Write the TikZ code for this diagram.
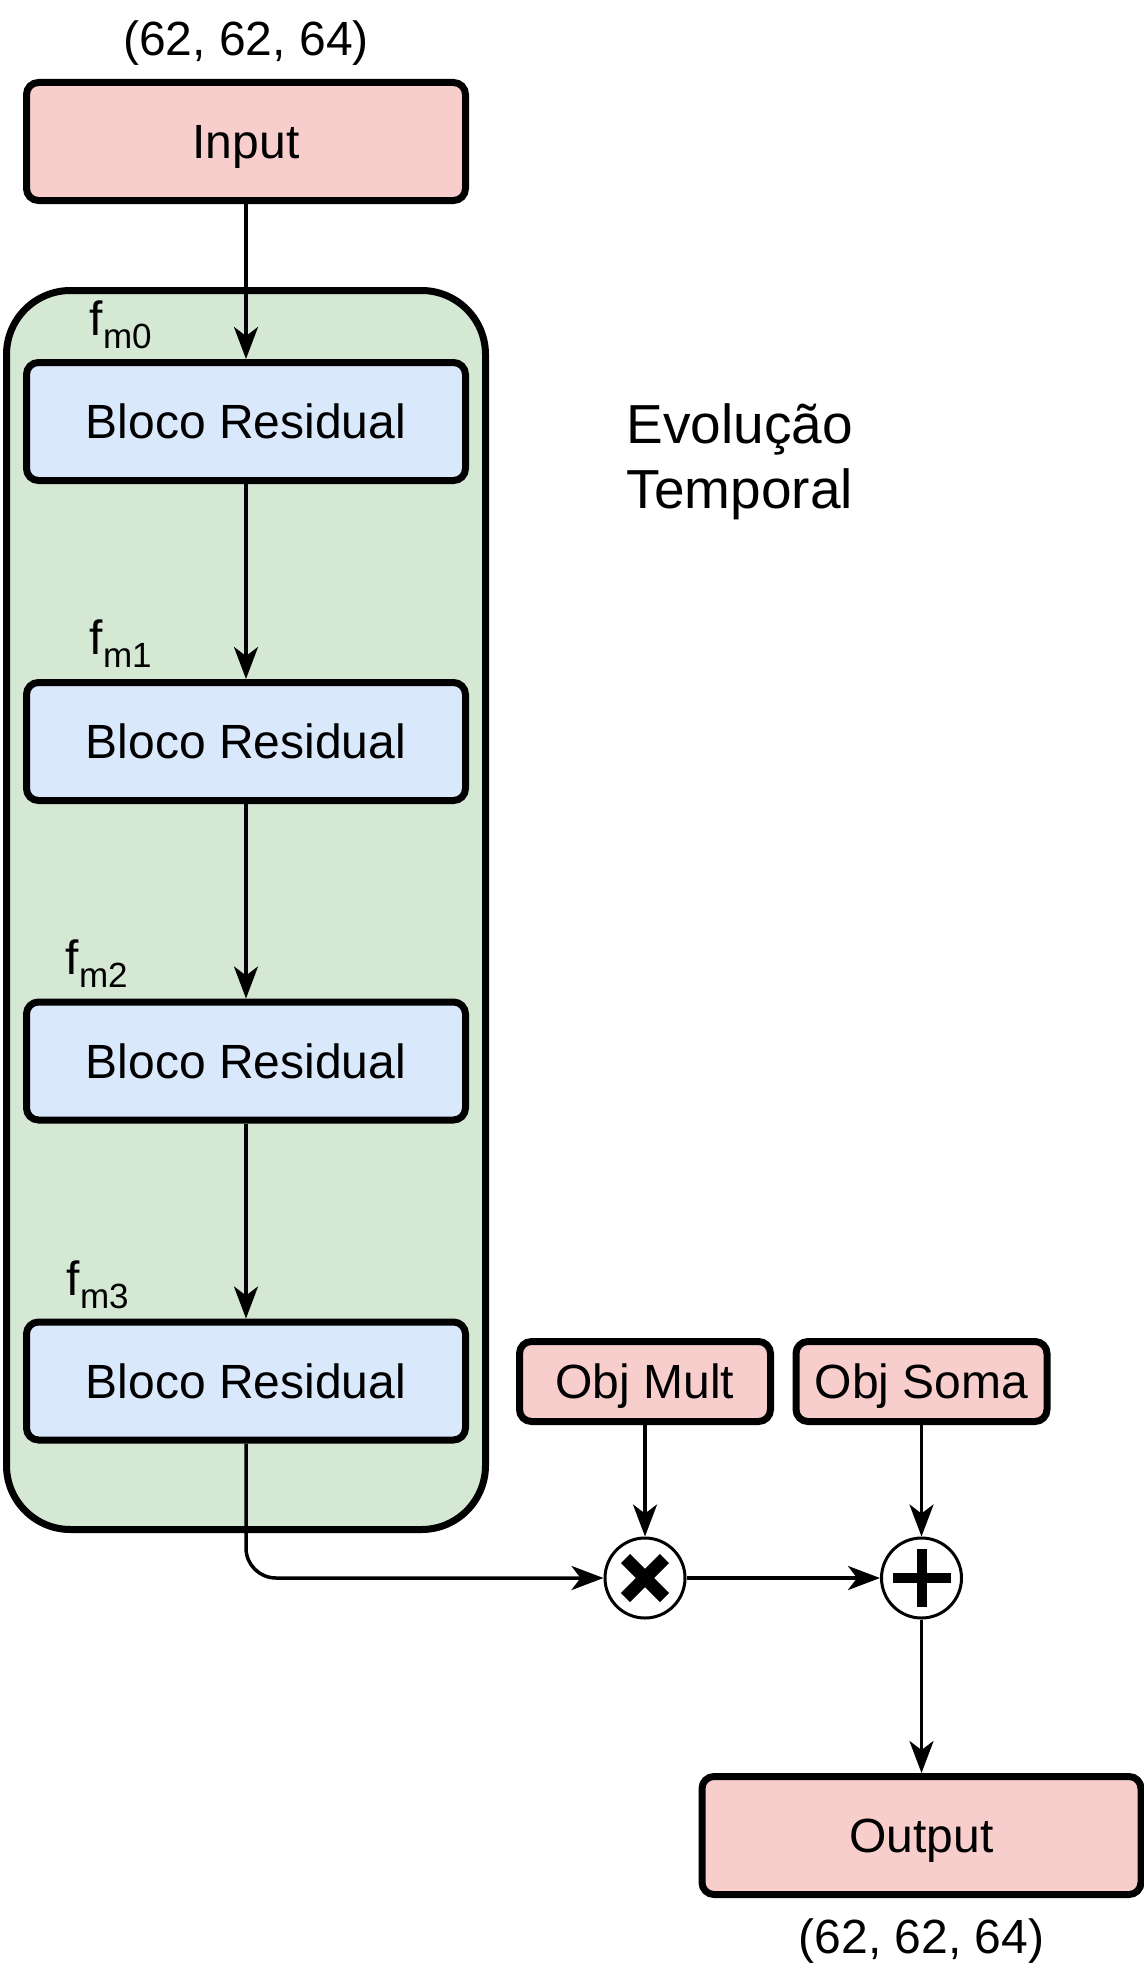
\documentclass[tikz,border=0pt]{standalone}
\usepackage{fontspec}
\setmainfont{Liberation Sans}
\usetikzlibrary{arrows.meta}

\definecolor{pinkfill}{HTML}{F8CECC}
\definecolor{bluefill}{HTML}{DAE8FC}
\definecolor{greenfill}{HTML}{D5E8D4}

\newcommand{\fmsub}[1]{f\raisebox{-6.5pt}{\fontsize{17.5}{17.5}\selectfont m#1}}

\tikzset{every picture/.style={line width=1.75pt}}
\tikzset{
  pinkbox/.style={draw, fill=pinkfill, rounded corners=6pt, line width=3.5pt, minimum width=219.5pt, minimum height=59pt, inner sep=0pt, text height=17pt, text depth=0pt},
  bluebox/.style={pinkbox, fill=bluefill},
  objbox/.style={pinkbox, minimum width=125.5pt, minimum height=40pt},
  opcircle/.style={draw, fill=white, circle, line width=1.5pt, minimum size=40pt, inner sep=0pt},
  dimlabel/.style={inner sep=0.75pt, text height=17pt, text depth=0pt},
  conn/.style={-{Stealth[length=16pt,width=12pt,inset=4.5pt]}, line width=1.75pt}
}

\begin{document}
\begin{tikzpicture}[x=0.5pt,y=0.5pt,yscale=-1,xscale=1,font=\fontsize{24}{28}\selectfont]
\useasboundingbox (0,0) rectangle (1144,1980);

%Rounded Rect (green group)
\draw (246,910) node (grp) [draw, fill=greenfill, rounded corners=32pt, line width=3.5pt, minimum width=239.5pt, minimum height=619.5pt] {};

%Rounded Rect
\draw (246,141.5) node (inp) [pinkbox] {Input};
%Rounded Rect
\draw (246,421.5) node (bloco0) [bluebox] {Bloco Residual};
%Rounded Rect
\draw (246,741.5) node (bloco1) [bluebox] {Bloco Residual};
%Rounded Rect
\draw (246,1061) node (bloco2) [bluebox] {Bloco Residual};
%Rounded Rect
\draw (246,1381) node (bloco3) [bluebox] {Bloco Residual};
%Rounded Rect
\draw (645,1381.5) node (objmult) [objbox] {Obj Mult};
%Rounded Rect
\draw (921.5,1381.5) node (objsoma) [objbox] {Obj Soma};
%Rounded Rect
\draw (921.5,1835.5) node (outp) [pinkbox] {Output};

%Shape: Circle
\draw (645,1578) node (mult) [opcircle] {};
\draw [line width=6.5pt] ([shift={(-19.5,-19.5)}]mult.center) -- ([shift={(19.5,19.5)}]mult.center);
\draw [line width=6.5pt] ([shift={(-19.5,19.5)}]mult.center) -- ([shift={(19.5,-19.5)}]mult.center);
%Shape: Circle
\draw (921.5,1578) node (plus) [opcircle] {};
\draw [line width=5pt] ([shift={(0,-29)}]plus.center) -- ([shift={(0,29)}]plus.center);
\draw [line width=5pt] ([shift={(-29,0)}]plus.center) -- ([shift={(29,0)}]plus.center);

%Straight Lines
\draw [conn] (inp.south) -- (bloco0.north);
\draw [conn] (bloco0.south) -- (bloco1.north);
\draw [conn] (bloco1.south) -- (bloco2.north);
\draw [conn] (bloco2.south) -- (bloco3.north);
\draw [conn, rounded corners=15pt] (bloco3.south) |- (mult.west);
\draw [conn] (mult.east) -- (plus.west);
\draw [conn] (objmult.south) -- (mult.north);
\draw [conn] (objsoma.south) -- (plus.north);
\draw [conn] (plus.south) -- (outp.north);

% Text Node
\draw (246,39) node (dimin) [dimlabel] {(62, 62, 64)};
% Text Node
\draw (921.5,1936.5) node (dimout) [dimlabel] {(62, 62, 64)};
% Text Node
\draw (88,335) node (fmzero) [anchor=base west, inner sep=0pt] {\fmsub{0}};
% Text Node
\draw (88,654) node (fmone) [anchor=base west, inner sep=0pt] {\fmsub{1}};
% Text Node
\draw (64,974) node (fmtwo) [anchor=base west, inner sep=0pt] {\fmsub{2}};
% Text Node
\draw (65,1295) node (fmthree) [anchor=base west, inner sep=0pt] {\fmsub{3}};
% Text Node
\draw (625,508) node (evol) [anchor=base west, inner sep=0pt, align=left, font=\fontsize{27.5}{32.5}\selectfont] {Evolução\\Temporal};

\end{tikzpicture}
\end{document}
